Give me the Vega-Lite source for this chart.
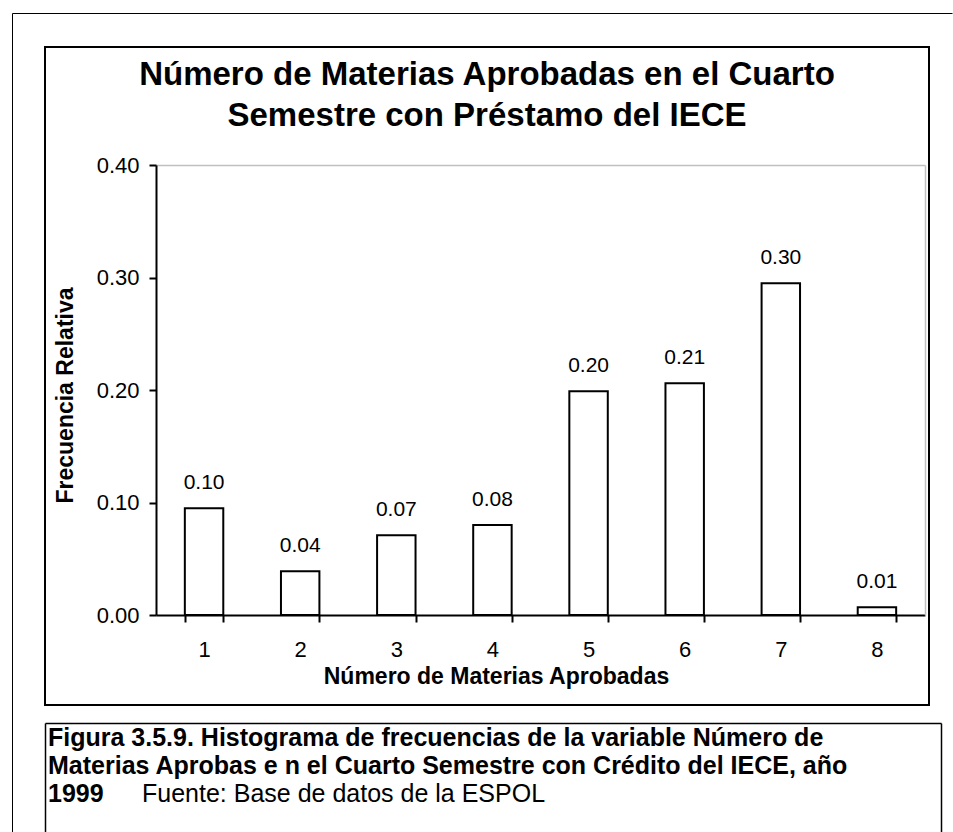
{
  "$schema": "https://vega.github.io/schema/vega-lite/v6.json",
  "padding": {"left": 11, "top": 12, "right": 0, "bottom": 0},
  "background": "white",
  "spacing": 18,
  "bounds": "flush",
  "config": {
    "font": "Liberation Sans",
    "view": {"stroke": null},
    "axis": {"grid": false, "labelColor": "black", "titleColor": "black", "tickColor": "black", "domainColor": "black", "labelFont": "Liberation Sans", "titleFont": "Liberation Sans"}
  },
  "vconcat": [
    {
      "width": 884,
      "height": 658,
      "view": {"stroke": "black", "strokeWidth": 2},
      "title": {
        "text": ["Número de Materias Aprobadas en el Cuarto", "Semestre con Préstamo del IECE"],
        "font": "Liberation Sans",
        "fontSize": 33,
        "fontWeight": "bold",
        "color": "black",
        "lineHeight": 41,
        "anchor": "middle",
        "frame": "group",
        "offset": -120
      },
      "data": {
        "values": [
          {"n": 1, "f": 0.095, "label": "0.10"},
          {"n": 2, "f": 0.039, "label": "0.04"},
          {"n": 3, "f": 0.071, "label": "0.07"},
          {"n": 4, "f": 0.080, "label": "0.08"},
          {"n": 5, "f": 0.199, "label": "0.20"},
          {"n": 6, "f": 0.206, "label": "0.21"},
          {"n": 7, "f": 0.295, "label": "0.30"},
          {"n": 8, "f": 0.007, "label": "0.01"}
        ]
      },
      "layer": [
        {
          "mark": {"type": "bar", "fill": "white", "stroke": "black", "strokeWidth": 2},
          "encoding": {
            "x": {
              "field": "n", "type": "ordinal",
              "scale": {"range": [111, 880], "paddingInner": 0.6, "paddingOuter": 0.3},
              "axis": {
                "orient": "bottom", "offset": -90, "title": "Número de Materias Aprobadas",
                "labelAngle": 0, "tickBand": "extent", "domainWidth": 2, "tickWidth": 2, "tickSize": 7,
                "labelFontSize": 22, "labelPadding": 17, "titleFontSize": 23, "titleFontWeight": "bold",
                "titleX": 451, "titleY": 68, "titleBaseline": "alphabetic", "minExtent": 0
              }
            },
            "y": {
              "field": "f", "type": "quantitative",
              "scale": {"domain": [0, 0.4], "range": [568, 118], "nice": false},
              "axis": {
                "orient": "left", "offset": -111, "values": [0, 0.1, 0.2, 0.3, 0.4], "format": ".2f",
                "title": "Frecuencia Relativa", "domainWidth": 2, "tickWidth": 2, "tickSize": 7,
                "labelFontSize": 22, "labelPadding": 10, "titleFontSize": 23, "titleFontWeight": "bold",
                "titleX": -91, "titleY": 348, "titleBaseline": "middle", "minExtent": 0
              }
            }
          }
        },
        {
          "mark": {"type": "text", "baseline": "alphabetic", "dy": -19, "fontSize": 21, "color": "black", "font": "Liberation Sans"},
          "encoding": {
            "x": {
              "field": "n", "type": "ordinal",
              "scale": {"range": [111, 880], "paddingInner": 0.6, "paddingOuter": 0.3},
              "axis": {"orient": "top", "offset": -118, "domainColor": "#c0c0c0", "domainWidth": 1.5, "ticks": false, "labels": false, "title": null, "minExtent": 0, "grid": false}
            },
            "y": {
              "field": "f", "type": "quantitative",
              "scale": {"domain": [0, 0.4], "range": [568, 118], "nice": false},
              "axis": {
                "orient": "right", "offset": -4, "grid": false,
                "domainColor": "#c0c0c0", "domainWidth": 1.5, "ticks": false, "labels": false, "title": null, "minExtent": 0
              }
            },
            "text": {"field": "label"}
          }
        },
        {
          "mark": {"type": "point", "opacity": 0, "size": 0},
          "encoding": {
            "x": {
              "field": "f", "type": "quantitative",
              "scale": {"domain": [0, 1], "range": [0, 940], "nice": false, "zero": false},
              "axis": {"orient": "top", "offset": 34, "position": -33, "ticks": false, "labels": false, "title": null, "domainWidth": 1, "minExtent": 0, "grid": false}
            },
            "y": {
              "field": "f", "type": "quantitative",
              "scale": {"domain": [0, 1], "range": [712, 0], "nice": false, "zero": false},
              "axis": {"orient": "left", "offset": 33, "position": -34, "ticks": false, "labels": false, "title": null, "domainWidth": 1, "minExtent": 0, "grid": false}
            }
          }
        }
      ],
      "resolve": {
        "scale": {"x": "independent", "y": "independent"},
        "axis": {"x": "independent", "y": "independent"}
      }
    },
    {
      "width": 896,
      "height": 120,
      "layer": [
        {
          "data": {
            "values": [
              {"line": 1, "col": 0, "text": "Figura 3.5.9. Histograma de frecuencias de la variable Número de"},
              {"line": 2, "col": 0, "text": "Materias Aprobas e n el Cuarto Semestre con Crédito del IECE, año"},
              {"line": 3, "col": 0, "text": "1999"}
            ]
          },
          "mark": {"type": "text", "align": "left", "baseline": "alphabetic", "dx": 3, "font": "Liberation Sans", "fontSize": 25, "fontWeight": "bold", "color": "black"},
          "encoding": {
            "x": {
              "field": "col", "type": "quantitative", "scale": {"domain": [0, 1], "nice": false, "zero": false},
              "axis": {"orient": "top", "ticks": false, "labels": false, "title": null, "domainWidth": 1.5, "minExtent": 0, "grid": false}
            },
            "y": {
              "field": "line", "type": "quantitative", "scale": {"domain": [0.1786, 4.464], "reverse": true, "nice": false, "zero": false},
              "axis": {"orient": "left", "ticks": false, "labels": false, "title": null, "domainWidth": 1.5, "minExtent": 0, "grid": false}
            },
            "text": {"field": "text"}
          }
        },
        {
          "data": {"values": [{"line": 3, "col": 0, "text": "Fuente: Base de datos de la ESPOL"}]},
          "mark": {"type": "text", "align": "left", "baseline": "alphabetic", "dx": 97, "font": "Liberation Sans", "fontSize": 25, "color": "black"},
          "encoding": {
            "x": {"field": "col", "type": "quantitative", "scale": {"domain": [0, 1], "nice": false, "zero": false}},
            "y": {
              "field": "line", "type": "quantitative", "scale": {"domain": [0.1786, 4.464], "reverse": true, "nice": false, "zero": false},
              "axis": {"orient": "right", "ticks": false, "labels": false, "title": null, "domainWidth": 1.5, "minExtent": 0, "grid": false}
            },
            "text": {"field": "text"}
          }
        },
        {
          "data": {"values": [{"v": 0}]},
          "mark": {"type": "point", "opacity": 0, "size": 0},
          "encoding": {
            "y": {
              "field": "v", "type": "quantitative", "scale": {"domain": [0, 1], "range": [140, 0], "nice": false, "zero": false},
              "axis": {"orient": "left", "offset": 33, "position": -18, "ticks": false, "labels": false, "title": null, "domainWidth": 1, "minExtent": 0, "grid": false}
            }
          }
        }
      ],
      "resolve": {"scale": {"y": "independent"}, "axis": {"y": "independent"}}
    }
  ]
}
